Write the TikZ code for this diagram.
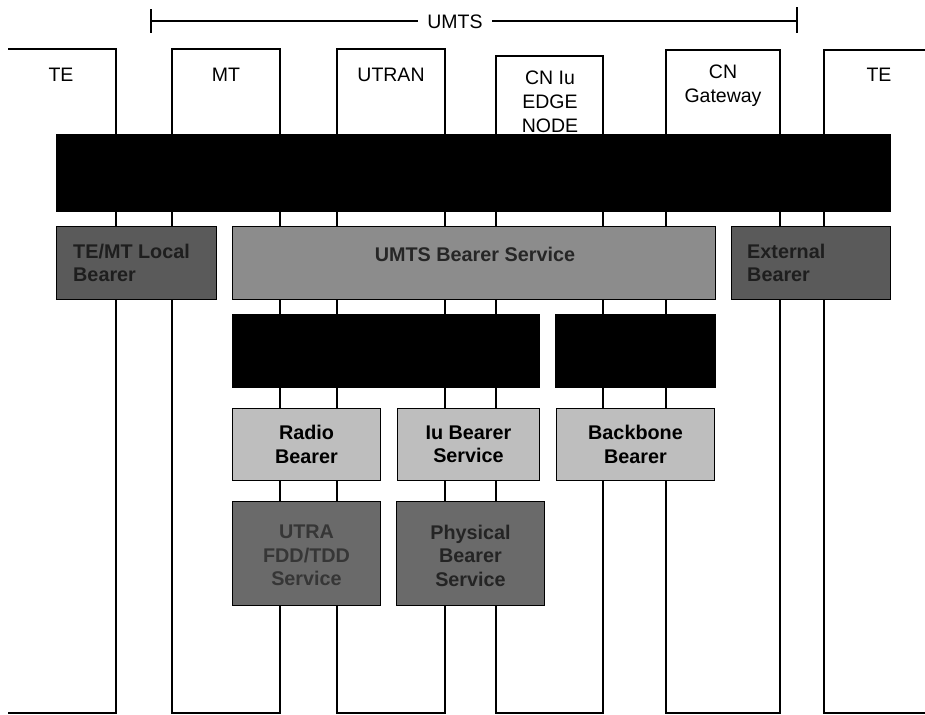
\documentclass[tikz,border=0pt]{standalone}
\usepackage{fontspec}
\setmainfont{Liberation Sans}
\definecolor{darkfill}{HTML}{5A5A5A}
\definecolor{darkink}{HTML}{1E1E1E}
\definecolor{midfill}{HTML}{8C8C8C}
\definecolor{midink}{HTML}{262626}
\definecolor{lightfill}{HTML}{BEBEBE}
\definecolor{lowfill}{HTML}{6A6A6A}
\definecolor{utraink}{HTML}{363636}
\definecolor{physink}{HTML}{242424}
\begin{document}
\begin{tikzpicture}[x=1pt,y=-1pt,
  col/.style={draw=black,line width=1.3pt},
  colname/.style={font=\fontsize{19.5}{24}\selectfont, align=center, inner sep=0pt},
  layer/.style={draw=black, line width=1pt, anchor=north west, inner sep=0pt},
  ltext/.style={font=\bfseries\fontsize{19.8}{23.5}\selectfont, inner sep=0pt},
]
\useasboundingbox (0,0) rectangle (925,714);

% ---- UMTS span bracket ----
\coordinate (umtsL) at (151,21);
\coordinate (umtsR) at (797,21);
\draw[line width=1.3pt] (umtsL) -- (umtsR);
\draw[line width=1.3pt] ([yshift=-12pt]umtsL) -- ([yshift=12pt]umtsL);
\draw[line width=1.3pt] ([yshift=-12pt]umtsR) -- ([yshift=14pt]umtsR);
\node[colname, fill=white, inner xsep=9pt, inner ysep=3pt] (umts) at (455,22) {UMTS};

% ---- network element columns ----
\draw[col] (8,49) -- (116,49) -- (116,713) -- (8,713);
\draw[col] (172,49) rectangle (280,713);
\draw[col] (337,49) rectangle (445,713);
\draw[col] (496,56) rectangle (603,713);
\draw[col] (666,50) rectangle (780,713);
\draw[col] (925,50) -- (824,50) -- (824,713) -- (925,713);

\node[colname] (te1) at (61,75) {TE};
\node[colname] (mt) at (226,75) {MT};
\node[colname] (utran) at (391,75) {UTRAN};
\node[colname] (cniu) at (550,102) {CN Iu\\EDGE\\NODE};
\node[colname] (cngw) at (723,86) {CN\\Gateway};
\node[colname] (te2) at (879,75) {TE};

% ---- bearer service layers ----
% end-to-end
\node[layer, fill=black, minimum width=834, minimum height=77] (e2e) at (56,134) {};
% second level
\node[layer, fill=darkfill, minimum width=160, minimum height=73] (local) at (56,226) {};
\node[layer, fill=midfill, minimum width=483, minimum height=73] (umtsb) at (232,226) {};
\node[layer, fill=darkfill, minimum width=159, minimum height=73] (ext) at (731,226) {};
\node[ltext, text=darkink, align=left, anchor=west] (localT) at (73,263) {TE/MT Local\\Bearer};
\node[ltext, text=midink] (umtsbT) at (475,254) {UMTS Bearer Service};
\node[ltext, text=darkink, align=left, anchor=west] (extT) at (747,263) {External\\Bearer};
% third level
\node[layer, fill=black, minimum width=307, minimum height=73] (rab) at (232,314) {};
\node[layer, fill=black, minimum width=160, minimum height=73] (cnb) at (555,314) {};
% fourth level
\node[layer, fill=lightfill, minimum width=148, minimum height=72] (radio) at (232,408) {};
\node[layer, fill=lightfill, minimum width=142, minimum height=72] (iub) at (397,408) {};
\node[layer, fill=lightfill, minimum width=158, minimum height=72] (bb) at (556,408) {};
\node[ltext, align=center] (radioT) at (radio.center) {Radio\\Bearer};
\node[ltext, align=center] (iubT) at (iub.center) {Iu Bearer\\Service};
\node[ltext, align=center] (bbT) at (bb.center) {Backbone\\Bearer};
% fifth level
\node[layer, fill=lowfill, minimum width=148, minimum height=104] (utra) at (232,501) {};
\node[layer, fill=lowfill, minimum width=148, minimum height=104] (phys) at (396,501) {};
\node[ltext, align=center, text=utraink] (utraT) at ([yshift=-2pt]utra.center) {UTRA\\FDD/TDD\\Service};
\node[ltext, align=center, text=physink] (physT) at ([yshift=-2pt]phys.center) {Physical\\Bearer\\Service};
\end{tikzpicture}
\end{document}
